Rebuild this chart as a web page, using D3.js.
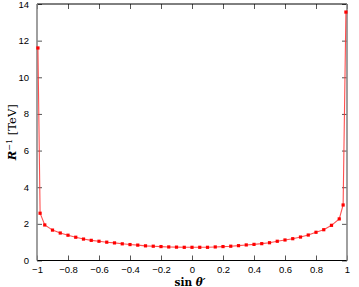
<!DOCTYPE html>
<html>
<head>
<meta charset="utf-8">
<script src="https://cdn.jsdelivr.net/npm/d3@7"></script>
<style>
  body { margin: 0; background: #fff; }
  svg { display: block; }
  .tick text { font-family: "Liberation Sans", Arial, sans-serif; font-size: 9.5px; fill: #000; }
</style>
</head>
<body>
<svg id="chart" width="359" height="287"></svg>
<script>
// sin theta' values and R^-1 [TeV]
var sinTheta = [-0.994, -0.98, -0.95, -0.9, -0.85, -0.8, -0.75, -0.7, -0.65, -0.6, -0.55,
                -0.5, -0.45, -0.4, -0.35, -0.3, -0.25, -0.2, -0.15, -0.1, -0.05,
                0, 0.05, 0.1, 0.15, 0.2, 0.25, 0.3, 0.35, 0.4, 0.45,
                0.5, 0.55, 0.6, 0.65, 0.7, 0.75, 0.8, 0.85, 0.9, 0.95, 0.975, 0.993];
var rInv = [11.6, 2.58, 1.94, 1.66, 1.50, 1.38, 1.27, 1.17, 1.10, 1.05, 1.00,
            0.96, 0.91, 0.87, 0.84, 0.80, 0.78, 0.76, 0.74, 0.73, 0.72,
            0.72, 0.72, 0.72, 0.74, 0.76, 0.78, 0.81, 0.85, 0.88, 0.92,
            0.97, 1.05, 1.12, 1.19, 1.28, 1.39, 1.54, 1.68, 1.92, 2.27, 3.03, 13.56];
var xTicks = [-1, -0.8, -0.6, -0.4, -0.2, 0, 0.2, 0.4, 0.6, 0.8, 1];
var yTicks = [0, 2, 4, 6, 8, 10, 12, 14];

var svg = d3.select("#chart");
var margin = {left: 37, right: 12, top: 4, bottom: 26.5};
var width = 359 - margin.left - margin.right,
    height = 287 - margin.top - margin.bottom;

var x = d3.scaleLinear().domain([-1, 1]).range([0, width]);
var y = d3.scaleLinear().domain([0, 14]).range([height, 0]);

var g = svg.append("g").attr("transform", "translate(" + margin.left + "," + margin.top + ")");

var data = sinTheta.map(function(s, i) { return {s: s, r: rInv[i]}; });

// axes with inward ticks
function styleAxis(sel) {
    sel.select(".domain").remove();
    sel.selectAll(".tick line").attr("stroke", "#555").attr("stroke-width", 1);
}
g.append("g").attr("transform", "translate(0," + height + ")")
    .call(d3.axisBottom(x).tickValues(xTicks).tickSize(-5).tickPadding(6).tickFormat(d3.format("")))
    .call(styleAxis);
g.append("g")
    .call(d3.axisTop(x).tickValues(xTicks).tickSize(-5).tickFormat(""))
    .call(styleAxis);
g.append("g")
    .call(d3.axisLeft(y).tickValues(yTicks).tickSize(-5).tickPadding(8))
    .call(styleAxis);
g.append("g").attr("transform", "translate(" + width + ",0)")
    .call(d3.axisRight(y).tickValues(yTicks).tickSize(-5).tickFormat(""))
    .call(styleAxis);

// frame: top/bottom black, sides gray
g.append("line").attr("x1", 0).attr("x2", width).attr("y1", 0).attr("y2", 0).attr("stroke", "#000");
g.append("line").attr("x1", 0).attr("x2", width).attr("y1", height).attr("y2", height).attr("stroke", "#000");
g.append("line").attr("x1", 0).attr("x2", 0).attr("y1", 0).attr("y2", height).attr("stroke", "#888").attr("stroke-width", 1.6);
g.append("line").attr("x1", width).attr("x2", width).attr("y1", 0).attr("y2", height).attr("stroke", "#888").attr("stroke-width", 1.6);

var line = d3.line().x(function(d) { return x(d.s); }).y(function(d) { return y(d.r); });

g.append("path").datum(data)
    .attr("d", line)
    .attr("fill", "none")
    .attr("stroke", "#ff3030")
    .attr("stroke-width", 1.1)
    .attr("stroke-opacity", 0.85);

g.selectAll(".pt").data(data).enter().append("rect")
    .attr("class", "pt")
    .attr("x", function(d) { return x(d.s) - 1.6; })
    .attr("y", function(d) { return y(d.r) - 1.6; })
    .attr("width", 3.2).attr("height", 3.2)
    .attr("fill", "#ff0000");

// axis labels
var xl = svg.append("text")
    .attr("x", margin.left + width / 2 - 2).attr("y", 285.5)
    .attr("text-anchor", "middle")
    .style("font-family", "'DejaVu Serif', 'Liberation Serif', serif")
    .style("font-size", "10.5px").style("font-weight", "bold");
xl.append("tspan").text("sin ");
xl.append("tspan").style("font-style", "italic").text("θ′");

var yl = svg.append("text")
    .attr("transform", "translate(16," + (margin.top + height / 2) + ") rotate(-90)")
    .attr("text-anchor", "middle")
    .style("font-family", "'DejaVu Serif', 'Liberation Serif', serif")
    .style("font-size", "11.5px");
yl.append("tspan").style("font-style", "italic").style("font-weight", "bold").text("R");
yl.append("tspan").attr("dy", -4.5).style("font-size", "8px").text("−1");
yl.append("tspan").attr("dy", 4.5).text(" [TeV]");
</script>
</body>
</html>
